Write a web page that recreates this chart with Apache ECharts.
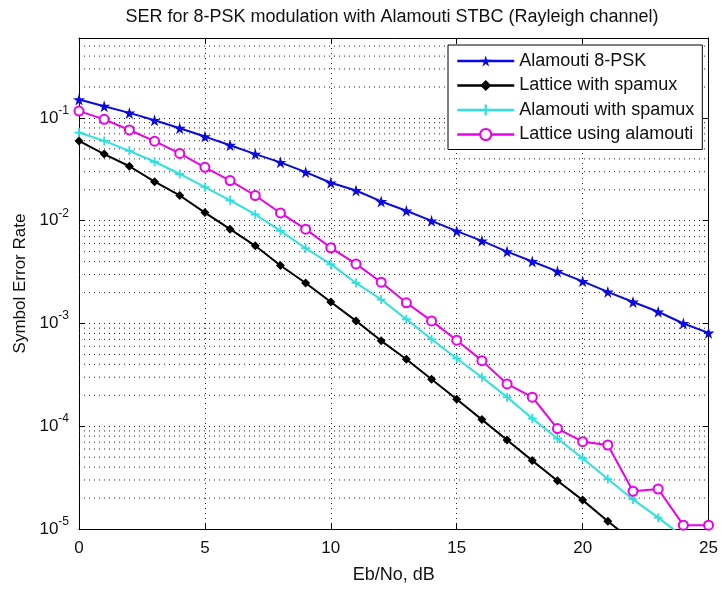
<!DOCTYPE html>
<html>
<head>
<meta charset="utf-8">
<script src="https://cdn.jsdelivr.net/npm/echarts@6/dist/echarts.min.js"></script>
<style>
html,body{margin:0;padding:0;background:#fff;}
#chart{width:721px;height:589px;}
</style>
</head>
<body>
<div id="chart"></div>
<script>
// ---- data ----
var snrDb = [0,1,2,3,4,5,6,7,8,9,10,11,12,13,14,15,16,17,18,19,20,21,22,23,24,25];
var alamouti8psk = [0.151,0.130,0.112,0.0949,0.0794,0.0659,0.0543,0.0445,0.0370,0.0297,0.0234,0.0197,0.0154,0.0125,0.00998,0.00792,0.00637,0.00501,0.00401,0.00321,0.00257,0.00203,0.00162,0.00130,0.00100,0.00081];
var latticeSpamux = [0.0598,0.0445,0.0339,0.0240,0.0176,0.0120,0.00828,0.00570,0.00367,0.00248,0.00162,0.00106,0.000678,0.000448,0.000287,0.000183,0.000116,0.0000734,0.0000463,0.0000295,0.0000191,0.0000119,0.0000076];
var alamoutiSpamux = [0.0721,0.0598,0.0479,0.0375,0.0285,0.0212,0.0158,0.0115,0.00796,0.00540,0.00378,0.00248,0.00171,0.00110,0.000703,0.000457,0.000300,0.000192,0.000119,0.0000760,0.0000488,0.0000306,0.0000194,0.0000129,0.0000084];
var latticeAlamouti = [0.1166,0.0969,0.0764,0.0594,0.0452,0.0331,0.0246,0.0176,0.0119,0.00828,0.00545,0.00380,0.00252,0.00159,0.00106,0.000687,0.000435,0.000258,0.000192,0.0000950,0.0000707,0.0000657,0.0000233,0.0000245,0.0000109,0.0000109];
var seriesNames = ['Alamouti 8-PSK','Lattice with spamux','Alamouti with spamux','Lattice using alamouti'];
var xTicks = [0,5,10,15,20,25];
var yDecades = [-5,-4,-3,-2,-1];
var yMin = 1e-5, yMax = 0.6, xMin = 0, xMax = 25;

// minor log grid positions (2..9 x decade)
var minorGrid = [];
for (var e = -5; e <= 0; e++) {
  for (var m = 2; m <= 9; m++) {
    var v = m * Math.pow(10, e);
    if (v < yMax - 1e-12) minorGrid.push(+v.toPrecision(3));
  }
}

function pairs(arr){ return arr.map(function(v,i){ return [snrDb[i], v]; }); }

var FONT = 'Liberation Sans, Arial, Helvetica, sans-serif';
var starPath = 'path://M50,0 L61,35 L98,35 L68,57 L79,91 L50,70 L21,91 L32,57 L2,35 L39,35 Z';
var plusPath = 'path://M4,0H6V4H10V6H6V10H4V6H0V4H4Z';

var chart = echarts.init(document.getElementById('chart'), null, {renderer:'canvas'});
var dotted = {type:[1,4], color:'#222', width:1};

var gridSeries = minorGrid.map(function(v){
  return {
    type: 'line', data: [[xMin, v], [xMax, v]], silent: true, z: 1,
    symbol: 'none', animation: false, legendHoverLink: false,
    lineStyle: {type: [1,4], color: '#222', width: 1},
    tooltip: {show: false}
  };
});

var mainSeries = [
  {
    name: seriesNames[0], type: 'line', data: pairs(alamouti8psk), clip: true, z: 3,
    symbol: starPath, symbolSize: 12, showAllSymbol: true,
    lineStyle: {color: '#0a0ae0', width: 2},
    itemStyle: {color: '#0a0ae0'}
  },
  {
    name: seriesNames[1], type: 'line', data: pairs(latticeSpamux), clip: true, z: 3,
    symbol: 'diamond', symbolSize: 9, showAllSymbol: true,
    lineStyle: {color: '#000', width: 2},
    itemStyle: {color: '#000'}
  },
  {
    name: seriesNames[2], type: 'line', data: pairs(alamoutiSpamux), clip: true, z: 3,
    symbol: plusPath, symbolSize: 9, showAllSymbol: true,
    lineStyle: {color: '#2ee0e0', width: 2},
    itemStyle: {color: '#2ee0e0'}
  },
  {
    name: seriesNames[3], type: 'line', data: pairs(latticeAlamouti), clip: true, z: 3,
    symbol: 'emptyCircle', symbolSize: 9, showAllSymbol: true,
    lineStyle: {color: '#ea00ea', width: 2},
    itemStyle: {color: '#ea00ea', borderColor: '#ea00ea', borderWidth: 1.5}
  }
];

var option = {
  animation: false,
  backgroundColor: '#fff',
  textStyle: {fontFamily: FONT},
  title: {
    text: 'SER for 8-PSK modulation with Alamouti STBC (Rayleigh channel)',
    left: 392, top: 8, padding: 0, textAlign: 'center',
    textStyle: {fontFamily: FONT, fontSize: 18, fontWeight: 'normal', color: '#111'}
  },
  grid: {left: 79, right: 12, top: 38, bottom: 56, containLabel: false},
  legend: {
    orient: 'vertical', left: 448, top: 45,
    data: seriesNames,
    padding: [7, 8, 6, 8],
    itemGap: 6.5, itemWidth: 57, itemHeight: 14,
    backgroundColor: '#fff', borderColor: '#000', borderWidth: 1, borderRadius: 0,
    lineStyle: {width: 2.5},
    textStyle: {fontFamily: FONT, fontSize: 18, color: '#111'}
  },
  xAxis: [{
    type: 'value', min: xMin, max: xMax, interval: 5,
    name: 'Eb/No, dB', nameLocation: 'middle', nameGap: 37,
    nameTextStyle: {fontFamily: FONT, fontSize: 18, color: '#111'},
    axisLine: {show: true, lineStyle: {color: '#000', width: 1}},
    axisTick: {show: true, inside: true, length: 6, lineStyle: {color: '#000'}},
    axisLabel: {margin: 11, fontFamily: FONT, fontSize: 17, color: '#111',
      formatter: function(v){ return xTicks.indexOf(v) >= 0 ? String(v) : ''; }},
    splitLine: {show: true, lineStyle: dotted}
  }, {
    type: 'value', min: xMin, max: xMax, interval: 5, position: 'top',
    axisLine: {show: true, onZero: false, lineStyle: {color: '#000', width: 1}},
    axisTick: {show: true, inside: true, length: 6, lineStyle: {color: '#000'}},
    axisLabel: {show: false}, splitLine: {show: false}
  }],
  yAxis: [{
    type: 'log', logBase: 10, min: yMin, max: yMax,
    name: 'Symbol Error Rate', nameLocation: 'middle', nameGap: 45, nameRotate: 90,
    nameTextStyle: {fontFamily: FONT, fontSize: 17, color: '#111'},
    axisLine: {show: true, onZero: false, lineStyle: {color: '#000', width: 1}},
    axisTick: {show: true, inside: true, length: 6, lineStyle: {color: '#000'}},
    axisLabel: {
      margin: 10, fontFamily: FONT, color: '#111',
      formatter: function(v){
        var l = Math.log10(v); var r = Math.round(l);
        if (Math.abs(l - r) > 1e-6 || yDecades.indexOf(r) < 0) return '';
        return '{b|10}{s|' + r + '}';
      },
      rich: {
        b: {fontFamily: FONT, fontSize: 17, color: '#111', padding: [5,0,5,0]},
        s: {fontFamily: FONT, fontSize: 12, color: '#111', verticalAlign: 'top'}
      }
    },
    splitLine: {show: true, lineStyle: dotted}
  }, {
    type: 'log', logBase: 10, min: yMin, max: yMax, position: 'right',
    axisLine: {show: true, onZero: false, lineStyle: {color: '#000', width: 1}},
    axisTick: {show: true, inside: true, length: 6, lineStyle: {color: '#000'}},
    axisLabel: {show: false}, splitLine: {show: false}
  }],
  series: gridSeries.concat(mainSeries)
};
chart.setOption(option);
</script>
</body>
</html>
